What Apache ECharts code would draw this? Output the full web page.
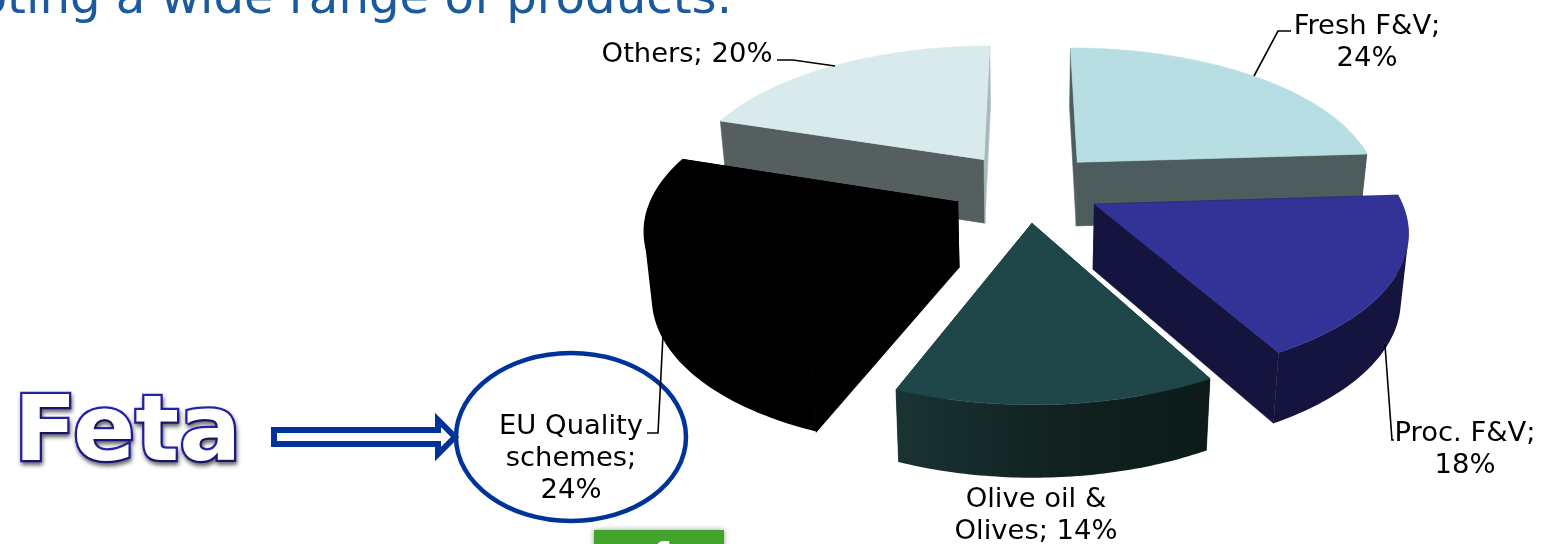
<!DOCTYPE html>
<html>
<head>
<meta charset="utf-8">
<style>html,body{margin:0;padding:0;background:#fff;overflow:hidden}#chart{width:1550px;height:544px}</style>
<script src="https://cdn.jsdelivr.net/npm/echarts@6/dist/echarts.min.js"></script>
</head>
<body>
<div id="chart"></div>
<script>
// Shares of EU products, in percent, clockwise from twelve o'clock
const categories = ['Fresh F&V', 'Proc. F&V', 'Olive oil & Olives', 'EU Quality schemes', 'Others'];
const shares = [24, 18, 14, 24, 20];
const labelLines = [['Fresh F&V;', '24%'], ['Proc. F&V;', '18%'], ['Olive oil &', 'Olives; 14%'], ['EU Quality', 'schemes;', '24%'], ['Others; 20%']];

// Back slices are painted first so that nearer ones cover them
const paintOrder = [4, 0, 3, 1, 2];

const topColors = ['#b7dee2', '#333296', '#1f4749', '#000000', '#d8eaec'];
const wallColors = ['#4d5c5c', '#15143f', '#112526', '#000000', '#565f60'];
const endWallColors = ['#4d5c5c', '#15143f', '#112526', '#000000', '#a9b8ba'];

// Perspective projection of the exploded disc
const view = { cx: 1027, cy: 187, a: 302, b: 139.7, p: 0.159, explode: 0.25, drop: 64.6, dropScaleX: 0.98, dropScaleY: 1.038 };

function project(u, v, lower) {
  const d = 1 + view.p * v;
  const x = view.a * u / d, y = -view.b * v / d;
  return lower
    ? [view.cx + x * view.dropScaleX, view.cy + view.drop + y * view.dropScaleY]
    : [view.cx + x, view.cy + y];
}

// One sub-path per quad, all wound the same way so that their union fills without seams
function quadPath(q) {
  let area = 0;
  q.forEach((p, i) => { const n = q[(i + 1) % 4]; area += p[0] * n[1] - n[0] * p[1]; });
  const pts = area < 0 ? q.slice().reverse() : q;
  return 'M' + pts.map(p => p[0].toFixed(2) + ' ' + p[1].toFixed(2)).join('L') + 'Z';
}

function sliceElements(index) {
  const total = shares.reduce((s, v) => s + v, 0);
  const before = shares.slice(0, index).reduce((s, v) => s + v, 0);
  const start = before / total * 2 * Math.PI;
  const end = (before + shares[index]) / total * 2 * Math.PI;
  const mid = (start + end) / 2;
  const ou = Math.sin(mid) * view.explode, ov = Math.cos(mid) * view.explode;
  const steps = 60;
  const rimTop = [], rimLow = [], angles = [];
  for (let i = 0; i <= steps; i++) {
    const t = start + (end - start) * i / steps;
    const u = ou + Math.sin(t), v = ov + Math.cos(t);
    angles.push(t);
    rimTop.push(project(u, v, false));
    rimLow.push(project(u, v, true));
  }
  const apexTop = project(ou, ov, false), apexLow = project(ou, ov, true);
  const seam = index === 3 ? 1.2 : 0.6;
  const face = (pts, fill) => ({ type: 'polygon', shape: { points: pts }, style: { fill, stroke: fill, lineWidth: seam } });
  const rimFill = index === 2
    ? new echarts.graphic.LinearGradient(rimTop[steps][0], 0, rimTop[0][0], 0, [
        { offset: 0, color: '#1a3334' }, { offset: 0.55, color: '#10211f' }, { offset: 1, color: '#0c1b19' }], true)
    : wallColors[index];
  const parts = [
    face([apexTop, rimTop[0], rimLow[0], apexLow], wallColors[index]),
    face([apexTop, rimTop[steps], rimLow[steps], apexLow], endWallColors[index])
  ];
  // Only the part of the rim that faces the viewer is drawn
  let rimPath = '';
  for (let i = 0; i < steps; i++) {
    if (Math.cos((angles[i] + angles[i + 1]) / 2) > 0.15) continue;
    rimPath += quadPath([rimTop[i], rimTop[i + 1], rimLow[i + 1], rimLow[i]]);
  }
  if (rimPath) parts.push({ type: 'path', shape: { pathData: rimPath }, style: { fill: rimFill } });
  parts.push(face([apexTop].concat(rimTop), topColors[index]));
  return parts;
}

// Label placement: centre x, first line y, and the leader line beside it
const labelPlaces = [
  { x: 1367, y: 27, leader: [[1291, 31], [1278, 31], [1254, 76]] },
  { x: 1465, y: 434, leader: [[1385, 345], [1392, 440], [1394, 440]] },
  { x: 1036, y: 500, leader: null },
  { x: 571, y: 427, leader: [[647, 433], [658, 433], [663, 335]] },
  { x: 687, y: 55, leader: [[777, 60], [793, 60], [835, 66]] }
];
const labelFont = 'DejaVu Sans';
const labelGraphics = [];
labelLines.forEach((lines, i) => {
  const place = labelPlaces[i];
  lines.forEach((line, k) => labelGraphics.push({
    type: 'text', z: 20, x: place.x, y: place.y + k * 32,
    style: { text: line, fontFamily: labelFont, fontSize: 27.4, fill: '#000', align: 'center', verticalAlign: 'middle' }
  }));
  if (place.leader) labelGraphics.push({
    type: 'polyline', z: 19, shape: { points: place.leader },
    style: { stroke: '#000', lineWidth: 1.6, fill: null }
  });
});

const blue = '#003399';
const decorations = [
  { type: 'text', z: 20, x: 732, y: 0,
    style: { text: 'promoting a wide range of products.', fontFamily: labelFont, fontSize: 48.2, fill: '#1b5a9c', align: 'right', verticalAlign: 'middle' } },
  { type: 'text', z: 19, x: 14, y: 437, scaleX: 1.02, scaleY: 1,
    style: { text: 'Feta', fontFamily: labelFont, fontWeight: 'bold', fontSize: 90, fill: '#fff', stroke: '#2323ae', lineWidth: 4.5, align: 'left', verticalAlign: 'middle',
      textShadowColor: 'rgba(0,0,0,0.5)', textShadowBlur: 4, textShadowOffsetX: 1, textShadowOffsetY: 3 } },
  { type: 'polygon', z: 18, shape: { points: [[274, 430], [438, 430], [438, 420], [455, 437], [438, 454], [438, 444], [274, 444]] },
    style: { fill: '#fff', stroke: blue, lineWidth: 6, lineJoin: 'miter' } },
  { type: 'ellipse', z: 18, shape: { cx: 571, cy: 437, rx: 115, ry: 84 },
    style: { fill: null, stroke: blue, lineWidth: 4.5 } },
  { type: 'rect', z: 17, shape: { x: 594, y: 530, width: 130, height: 20 },
    style: { fill: '#43a32a', shadowColor: 'rgba(0,0,0,0.4)', shadowBlur: 5 } },
  { type: 'text', z: 18, x: 661, y: 559,
    style: { text: 'f', fontFamily: labelFont, fontWeight: 'bold', fontSize: 36, fill: '#fff', align: 'center', verticalAlign: 'middle' } }
];

const chart = echarts.init(document.getElementById('chart'), null, { renderer: 'canvas' });
chart.setOption({
  animation: false,
  backgroundColor: '#fff',
  series: [{
    type: 'custom',
    coordinateSystem: 'none',
    data: paintOrder.map(i => [i, shares[i]]),
    renderItem: (params, api) => ({ type: 'group', children: sliceElements(api.value(0)) })
  }],
  graphic: labelGraphics.concat(decorations)
});
</script>
</body>
</html>
